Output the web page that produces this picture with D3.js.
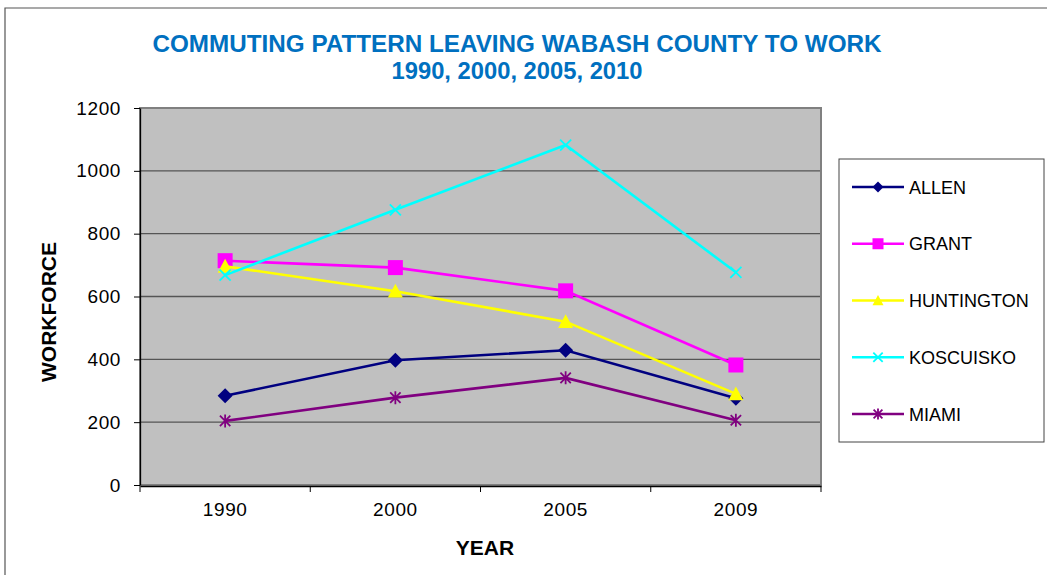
<!DOCTYPE html>
<html>
<head>
<meta charset="utf-8">
<script src="https://cdn.jsdelivr.net/npm/d3@7"></script>
<style>
  html, body { margin: 0; padding: 0; background: #fff; }
  svg { display: block; font-family: "Liberation Sans", Arial, sans-serif; }
</style>
</head>
<body>
<svg id="chart" width="1047" height="575"></svg>
<script>
// Commuters leaving Wabash County, by destination county
const years = ["1990", "2000", "2005", "2009"];
const allen = [284, 397, 429, 276];
const grant = [714, 692, 618, 382];
const huntington = [696, 617, 520, 290];
const koscuisko = [668, 876, 1082, 677];
const miami = [204, 278, 341, 206];
const yTicks = [0, 200, 400, 600, 800, 1000, 1200];

const series = [
  { name: "ALLEN", values: allen, color: "#000080", marker: "diamond" },
  { name: "GRANT", values: grant, color: "#FF00FF", marker: "square" },
  { name: "HUNTINGTON", values: huntington, color: "#FFFF00", marker: "triangle" },
  { name: "KOSCUISKO", values: koscuisko, color: "#00FFFF", marker: "cross" },
  { name: "MIAMI", values: miami, color: "#800080", marker: "asterisk" }
];

const svg = d3.select("#chart");
const plot = { left: 140, right: 821, top: 108, bottom: 485 };

// Outer chart frame
svg.append("path")
  .attr("d", "M5,575 V8 H1047")
  .attr("fill", "none").attr("stroke", "#555").attr("stroke-width", 1.2);

// Title
const title = svg.append("g").attr("fill", "#0070C0")
  .attr("font-weight", "bold").attr("font-size", 23).attr("text-anchor", "middle");
title.append("text").attr("x", 517).attr("y", 52)
  .attr("textLength", 729).attr("lengthAdjust", "spacingAndGlyphs")
  .text("COMMUTING PATTERN LEAVING WABASH COUNTY TO WORK");
title.append("text").attr("x", 517).attr("y", 79)
  .attr("textLength", 251).attr("lengthAdjust", "spacingAndGlyphs")
  .text("1990, 2000, 2005, 2010");

const x = d3.scaleBand().domain(years).range([plot.left, plot.right]).padding(0);
const y = d3.scaleLinear().domain([0, 1200]).range([plot.bottom, plot.top]);
const cx = d => x(d) + x.bandwidth() / 2;

// Plot background
svg.append("rect")
  .attr("x", plot.left).attr("y", plot.top)
  .attr("width", plot.right - plot.left).attr("height", plot.bottom - plot.top)
  .attr("fill", "#C0C0C0");

// Horizontal gridlines
svg.append("g").selectAll("line").data(yTicks.filter(t => t > 0)).join("line")
  .attr("x1", plot.left).attr("x2", plot.right)
  .attr("y1", d => y(d)).attr("y2", d => y(d))
  .attr("stroke", "#555").attr("stroke-width", 1.3);

// Plot border
svg.append("rect")
  .attr("x", plot.left).attr("y", plot.top)
  .attr("width", plot.right - plot.left).attr("height", plot.bottom - plot.top)
  .attr("fill", "none").attr("stroke", "#808080").attr("stroke-width", 2);

// Y axis
const yAxis = svg.append("g")
  .attr("transform", `translate(${plot.left},0)`)
  .call(d3.axisLeft(y).tickValues(yTicks).tickFormat(d3.format("d"))
    .tickSize(6).tickPadding(13).tickSizeOuter(0));
yAxis.select(".domain").attr("stroke", "#000").attr("stroke-width", 1.3);
yAxis.selectAll(".tick line").attr("stroke", "#000");
yAxis.selectAll(".tick text").attr("font-size", 19).attr("fill", "#000")
  .attr("letter-spacing", 0.6)
  .attr("font-family", "Liberation Sans, Arial, sans-serif");

// X axis
const xAxis = svg.append("g")
  .attr("transform", `translate(0,${plot.bottom + 1})`)
  .call(d3.axisBottom(x).tickSize(0).tickPadding(17));
xAxis.select(".domain").attr("stroke", "#000").attr("stroke-width", 1.3);
xAxis.selectAll(".tick text").attr("font-size", 19).attr("fill", "#000")
  .attr("letter-spacing", 0.6)
  .attr("font-family", "Liberation Sans, Arial, sans-serif");
// Category boundary ticks
const bounds = years.map(d => x(d)).concat([x(years[years.length - 1]) + x.bandwidth()]);
svg.append("g").selectAll("line").data(bounds).join("line")
  .attr("x1", d => d).attr("x2", d => d)
  .attr("y1", plot.bottom + 1).attr("y2", plot.bottom + 7)
  .attr("stroke", "#000").attr("stroke-width", 1);

// Axis titles
svg.append("text").attr("x", 485).attr("y", 555)
  .attr("text-anchor", "middle").attr("font-weight", "bold").attr("font-size", 21)
  .text("YEAR");
svg.append("text")
  .attr("transform", "translate(56,312) rotate(-90)")
  .attr("text-anchor", "middle").attr("font-weight", "bold").attr("font-size", 21)
  .text("WORKFORCE");

// Marker shapes
function drawMarker(g, type, color, s) {
  const h = s / 2;
  if (type === "diamond") {
    g.append("path").attr("d", `M0,${-h} L${h},0 L0,${h} L${-h},0 Z`).attr("fill", color);
  } else if (type === "square") {
    g.append("rect").attr("x", -h).attr("y", -h).attr("width", s).attr("height", s).attr("fill", color);
  } else if (type === "triangle") {
    g.append("path").attr("d", `M0,${-h} L${h},${h * 0.85} L${-h},${h * 0.85} Z`).attr("fill", color);
  } else if (type === "cross") {
    const c = h * 0.85;
    g.append("path").attr("d", `M${-c},${-c} L${c},${c} M${-c},${c} L${c},${-c}`)
      .attr("stroke", color).attr("stroke-width", 1.8).attr("fill", "none");
  } else if (type === "asterisk") {
    const c = h * 0.8;
    g.append("path").attr("d", `M${-c},${-c} L${c},${c} M${-c},${c} L${c},${-c} M0,${-h} L0,${h}`)
      .attr("stroke", color).attr("stroke-width", 1.8).attr("fill", "none");
  }
}

const line = d3.line().x((d, i) => cx(years[i])).y(d => y(d));

series.forEach(s => {
  const g = svg.append("g");
  g.append("path").datum(s.values).attr("d", line)
    .attr("fill", "none").attr("stroke", s.color).attr("stroke-width", 2.6);
  s.values.forEach((v, i) => {
    const m = g.append("g").attr("transform", `translate(${cx(years[i])},${y(v)})`);
    drawMarker(m, s.marker, s.color, s.marker === "cross" || s.marker === "asterisk" ? 13 : 15);
  });
});

// Legend
const legend = svg.append("g");
legend.append("rect").attr("x", 839).attr("y", 159).attr("width", 205).attr("height", 283)
  .attr("fill", "#fff").attr("stroke", "#444").attr("stroke-width", 1);
const ly = d3.scalePoint().domain(series.map(s => s.name)).range([187, 414]);
series.forEach(s => {
  const g = legend.append("g").attr("transform", `translate(0,${ly(s.name)})`);
  g.append("line").attr("x1", 852).attr("x2", 904).attr("y1", 0).attr("y2", 0)
    .attr("stroke", s.color).attr("stroke-width", 2.4);
  const m = g.append("g").attr("transform", "translate(878,0)");
  drawMarker(m, s.marker, s.color, 11);
  g.append("text").attr("x", 909).attr("y", 6.5).attr("font-size", 18).attr("fill", "#000")
    .text(s.name);
});
</script>
</body>
</html>
